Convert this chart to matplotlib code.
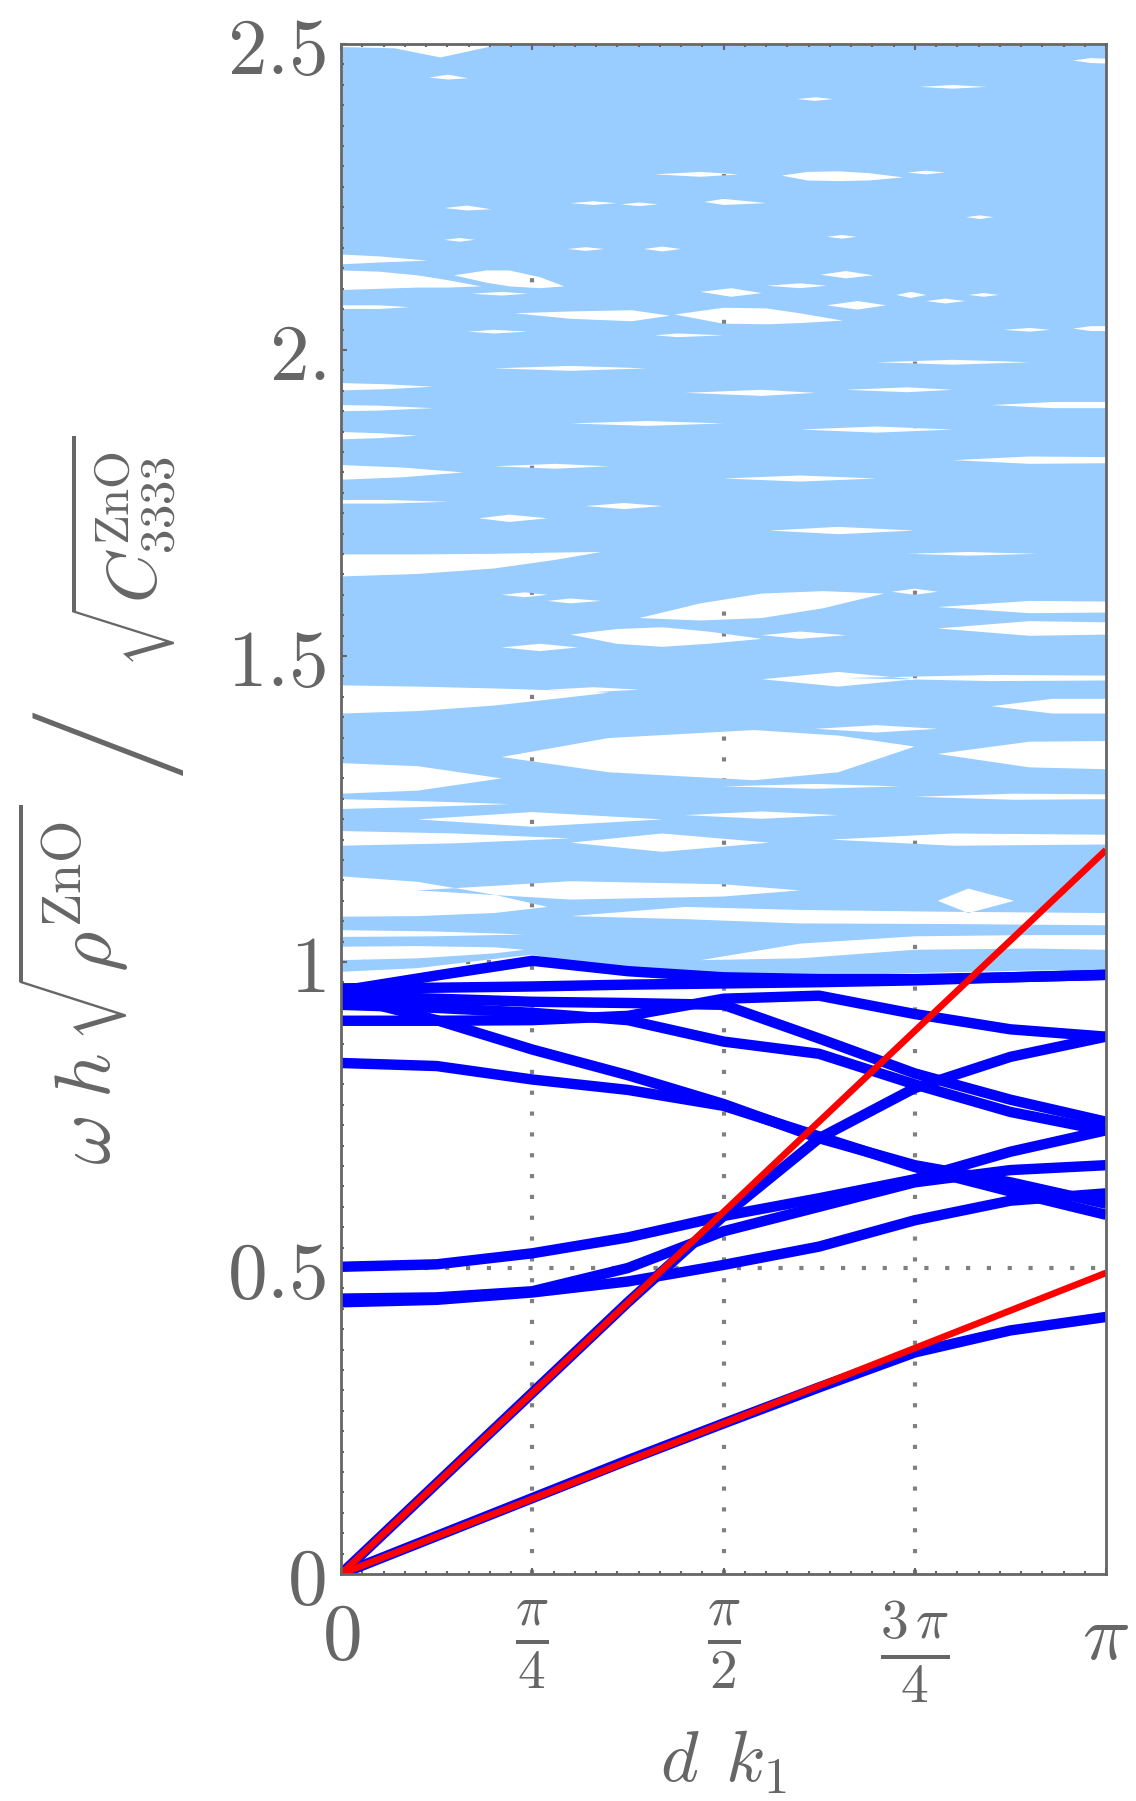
import numpy as np
import matplotlib
matplotlib.use("Agg")
import matplotlib.pyplot as plt
from matplotlib.path import Path
from matplotlib.patches import PathPatch

plt.rcParams['mathtext.fontset'] = 'cm'
plt.rcParams['font.family'] = ['DejaVu Serif']

PI = np.pi
GRAY = '#666666'

# ---------------- data ----------------
# wavenumber knots (units of pi)
k_knots = [0, 1/8, 1/4, 3/8, 1/2, 5/8, 3/4, 7/8, 1]

# dark-blue branches (normalised frequency at k_knots)
acoustic_low  = [0.000, 0.062, 0.124, 0.186, 0.246, 0.305, 0.362, 0.398, 0.420]
acoustic_up   = [0.000, 0.148, 0.296, 0.444, 0.585, 0.712, 0.794, 0.845, 0.878]
band_b3       = [0.502, 0.506, 0.524, 0.550, 0.585, 0.614, 0.645, 0.690, 0.725]
band_b4       = [0.450, 0.452, 0.462, 0.500, 0.560, 0.600, 0.640, 0.660, 0.668]
band_b5       = [0.444, 0.448, 0.460, 0.478, 0.505, 0.535, 0.578, 0.610, 0.622]
band_d1       = [0.835, 0.830, 0.808, 0.791, 0.765, 0.715, 0.665, 0.625, 0.587]
band_d2       = [0.945, 0.905, 0.857, 0.815, 0.768, 0.712, 0.668, 0.640, 0.605]
band_h1       = [0.904, 0.904, 0.905, 0.912, 0.940, 0.945, 0.915, 0.890, 0.878]
band_k        = [0.930, 0.925, 0.917, 0.905, 0.870, 0.850, 0.800, 0.755, 0.724]
band_g        = [0.945, 0.940, 0.935, 0.933, 0.930, 0.875, 0.818, 0.775, 0.739]
band_peak     = [0.953, 0.978, 1.002, 0.985, 0.975, 0.972, 0.972, 0.975, 0.979]
band_flat     = [0.957, 0.958, 0.960, 0.963, 0.965, 0.967, 0.970, 0.975, 0.979]
dark_bands = [acoustic_low, acoustic_up, band_b3, band_b4, band_b5, band_d1,
              band_d2, band_h1, band_k, band_g, band_peak, band_flat]

# red long-wavelength asymptotes: value reached at k = pi
red_end_values = [1.183, 0.492]

# light-blue continuum: lower and upper envelopes (k in units of pi)
cont_low_k = [0, 0.10, 0.20, 0.25, 0.30, 0.40, 0.47, 0.60, 0.75, 0.90, 1.0]
cont_low_v = [0.984, 0.990, 1.005, 1.012, 1.000, 0.990, 0.980, 0.976, 0.982, 0.986, 0.987]
cont_top_k = [0, 0.07, 0.13, 0.20, 1.0]
cont_top_v = [2.495, 2.493, 2.478, 2.497, 2.497]

# white gaps inside the continuum: (k knots, centre, half width)
gaps = [
    ([.115, .14, .166], [2.445, 2.446, 2.444], [0, .004, 0]),
    ([.957, .98, 1.0], [2.473, 2.473, 2.472], [0, .004, .004]),
    ([.756, .80, .844], [2.43, 2.43, 2.43], [0, .003, 0]),
    ([.596, .62, .643], [2.41, 2.41, 2.41], [0, .003, 0]),
    ([.41, .47, .52], [2.287, 2.287, 2.287], [0, .004, 0]),
    ([.576, .61, .65, .69, .735], [2.285, 2.284, 2.284, 2.283, 2.282], [0, .007, .008, .006, 0]),
    ([.74, .765, .79], [2.29, 2.29, 2.29], [0, .003, 0]),
    ([.475, .50, .556], [2.242, 2.242, 2.240], [0, .005, 0]),
    ([.135, .165, .196], [2.232, 2.232, 2.230], [0, .004, 0]),
    ([.30, .33, .36], [2.240, 2.240, 2.240], [0, .003, 0]),
    ([.366, .39, .414], [2.238, 2.238, 2.238], [0, .003, 0]),
    ([.635, .655, .674], [2.185, 2.185, 2.185], [0, .003, 0]),
    ([.135, .155, .175], [2.18, 2.18, 2.18], [0, .003, 0]),
    ([.296, .32, .344], [2.165, 2.165, 2.165], [0, .003, 0]),
    ([.396, .42, .444], [2.165, 2.165, 2.165], [0, .004, 0]),
    ([.817, .835, .853], [2.217, 2.217, 2.217], [0, .003, 0]),
    ([0, .05, .113], [2.148, 2.148, 2.146], [.008, .005, 0]),
    ([0, .05, .10, .14, .183], [2.114, 2.114, 2.112, 2.108, 2.104], [.016, .014, .010, .006, 0]),
    ([.148, .19, .22, .26, .292], [2.122, 2.120, 2.117, 2.110, 2.104], [0, .010, .013, .009, 0]),
    ([.47, .51, .55], [2.095, 2.094, 2.093], [0, .007, 0]),
    ([.627, .66, .696], [2.123, 2.123, 2.122], [0, .006, 0]),
    ([.556, .60, .635], [2.105, 2.105, 2.105], [0, .004, 0]),
    ([.17, .21, .244], [2.092, 2.092, 2.092], [0, .003, 0]),
    ([0, .05, .09], [2.07, 2.07, 2.07], [.003, .003, 0]),
    ([.227, .30, .38, .43], [2.060, 2.057, 2.056, 2.056], [0, .006, .009, 0]),
    ([.436, .50, .556, .60, .656], [2.058, 2.056, 2.055, 2.052, 2.048], [0, .013, .013, .008, 0]),
    ([.635, .675, .713], [2.073, 2.073, 2.073], [0, .007, 0]),
    ([.726, .745, .765], [2.09, 2.09, 2.09], [0, .005, 0]),
    ([.765, .79, .816], [2.08, 2.08, 2.08], [0, .004, 0]),
    ([.82, .84, .86], [2.09, 2.09, 2.09], [0, .003, 0]),
    ([.866, .90, .927], [2.033, 2.033, 2.033], [0, .003, 0]),
    ([.957, .98, 1.0], [2.035, 2.035, 2.035], [0, .004, .004]),
    ([.166, .20, .244], [2.03, 2.03, 2.03], [0, .003, 0]),
    ([.41, .44, .50], [2.024, 2.024, 2.024], [0, .003, 0]),
    # 1.75 - 2.0
    ([0, .08, .16], [1.80, 1.80, 1.80], [.012, .008, 0]),
    ([.20, .28, .35], [1.81, 1.81, 1.81], [0, .004, 0]),
    ([.50, .60, .70], [1.79, 1.79, 1.79], [0, .005, 0]),
    ([.80, .90, 1.0], [1.82, 1.82, 1.82], [0, .006, .005]),
    ([0, .05, .10], [1.86, 1.86, 1.86], [.006, .004, 0]),
    ([.30, .40, .50], [1.88, 1.88, 1.88], [0, .004, 0]),
    ([.60, .70, .80], [1.87, 1.87, 1.87], [0, .005, 0]),
    ([0, .05, .12], [1.905, 1.905, 1.905], [.005, .004, 0]),
    ([.45, .55, .62], [1.93, 1.93, 1.93], [0, .005, 0]),
    ([.66, .74, .80], [1.935, 1.935, 1.935], [0, .004, 0]),
    ([0, .06, .12], [1.94, 1.94, 1.94], [.006, .004, 0]),
    ([.20, .30, .40], [1.97, 1.97, 1.97], [0, .004, 0]),
    ([.70, .80, .90], [1.98, 1.98, 1.98], [0, .004, 0]),
    ([.85, .93, 1.0], [1.91, 1.91, 1.91], [0, .005, .005]),
    # 1.0 - 1.75
    ([0, .06, .14], [1.752, 1.752, 1.752], [.003, .003, 0]),
    ([.32, .37, .42], [1.745, 1.745, 1.745], [0, .005, 0]),
    ([.18, .22, .27], [1.725, 1.725, 1.725], [0, .006, 0]),
    ([.56, .65, .75], [1.705, 1.705, 1.705], [0, .006, 0]),
    ([.74, .82, .91], [1.667, 1.667, 1.667], [0, .003, 0]),
    ([0, .10, .20, .28, .34], [1.648, 1.650, 1.655, 1.663, 1.670], [.018, .016, .012, .006, 0]),
    ([.21, .24, .27], [1.60, 1.60, 1.60], [0, .004, 0]),
    ([.27, .30, .34], [1.59, 1.59, 1.59], [0, .004, 0]),
    ([.39, .47, .55, .63, .71], [1.562, 1.572, 1.582, 1.592, 1.602], [0, .014, .020, .014, 0]),
    ([.72, .75, .78], [1.605, 1.605, 1.605], [0, .005, 0]),
    ([.78, .90, 1.0], [1.580, 1.580, 1.580], [0, .010, .009]),
    ([.78, .90, 1.0], [1.545, 1.545, 1.545], [0, .012, .010]),
    ([.55, .60, .66], [1.534, 1.534, 1.534], [0, .006, 0]),
    ([.30, .36, .42, .48, .55], [1.535, 1.532, 1.531, 1.530, 1.528], [0, .012, .016, .010, 0]),
    ([.21, .26, .31], [1.514, 1.514, 1.514], [0, .006, 0]),
    ([.85, .93, 1.0], [1.418, 1.418, 1.418], [0, .012, .012]),
    ([.66, .85, 1.0], [1.464, 1.464, 1.464], [0, .005, .004]),
    ([.55, .65, .75], [1.462, 1.462, 1.462], [0, .012, 0]),
    ([.27, .33, .39], [1.445, 1.445, 1.445], [0, .004, 0]),
    ([0, .10, .20, .28, .35], [1.429, 1.430, 1.433, 1.437, 1.440], [.023, .020, .014, .007, 0]),
    ([.62, .70, .78], [1.381, 1.381, 1.381], [0, .006, 0]),
    ([.21, .35, .54, .65, .75], [1.335, 1.338, 1.338, 1.340, 1.352], [0, .028, .041, .030, 0]),
    ([.78, .90, 1.0], [1.340, 1.339, 1.338], [0, .021, .023]),
    ([0, .10, .21], [1.30, 1.30, 1.30], [.025, .020, 0]),
    ([.50, .62, .73], [1.287, 1.287, 1.287], [0, .004, 0]),
    ([.75, .88, 1.0], [1.27, 1.27, 1.27], [0, .005, .004]),
    ([0, .10, .22], [1.258, 1.258, 1.258], [.008, .005, 0]),
    ([.10, .25, .42], [1.233, 1.233, 1.233], [0, .012, 0]),
    ([.45, .55, .65], [1.24, 1.24, 1.24], [0, .006, 0]),
    ([0, .15, .30], [1.202, 1.202, 1.202], [.012, .008, 0]),
    ([.30, .42, .56], [1.195, 1.195, 1.195], [0, .015, 0]),
    ([.64, .80, 1.0], [1.20, 1.20, 1.20], [0, .010, .008]),
    ([.10, .30, .50, .60], [1.117, 1.117, 1.117, 1.117], [0, .015, .010, 0]),
    ([.78, .82, .88], [1.10, 1.10, 1.10], [0, .020, 0]),
    ([0, .10, .20, .27], [1.107, 1.103, 1.095, 1.09], [.033, .028, .015, 0]),
    ([0, .12, .24], [1.0465, 1.046, 1.045], [.0055, .004, 0]),
    ([0, .10, .20, .24], [1.014, 1.016, 1.019, 1.02], [.011, .010, .005, 0]),
    ([.30, .45, .60, .80, 1.0], [1.075, 1.080, 1.074, 1.072, 1.070], [0, .010, .011, .010, .010]),
    ([.47, .60, .75, .90, 1.0], [1.003, 1.018, 1.031, 1.033, 1.032], [0, .012, .011, .011, .012]),
]

# axis tick data
x_major = [0, PI/4, PI/2, 3*PI/4, PI]
x_labels = [r'$0$', r'$\frac{\pi}{4}$', r'$\frac{\pi}{2}$', r'$\frac{3\,\pi}{4}$', r'$\pi$']
y_major = [0, 0.5, 1, 1.5, 2, 2.5]
y_labels = [r'$0$', r'$0.5$', r'$1$', r'$1.5$', r'$2.$', r'$2.5$']
x_grid = [PI/4, PI/2, 3*PI/4]
y_grid = [0.5, 1.0, 1.5, 2.0]

# ---------------- figure ----------------
W, H = 1136, 1801
fig = plt.figure(figsize=(W/100, H/100), dpi=100)
L, R, T, B = 341, 1106, 44, 1574
ax = fig.add_axes([L/W, 1-B/H, (R-L)/W, (B-T)/H])
ax.set_xlim(0, PI)
ax.set_ylim(0, 2.5)

# grid (below everything)
for gx in x_grid:
    ax.axvline(gx, color='#808080', lw=3.0, ls=(0, (1, 4)), dash_capstyle='butt', zorder=0.5)
for gy in y_grid:
    ax.axhline(gy, color='#808080', lw=3.0, ls=(0, (1, 4)), dash_capstyle='butt', zorder=0.5)

# continuum with holes
verts, codes = [], []
ox = list(np.array(cont_low_k) * PI) + list(np.array(cont_top_k[::-1]) * PI)
oy = list(cont_low_v) + list(cont_top_v[::-1])
pts = list(zip(ox, oy))
verts += pts + [pts[0]]
codes += [Path.MOVETO] + [Path.LINETO] * (len(pts) - 1) + [Path.CLOSEPOLY]
for gk, gc, gh in gaps:
    gk = np.array(gk) * PI
    gc = np.array(gc); gh = np.array(gh)
    lo = gc - gh; hi = gc + gh
    px = list(gk) + list(gk[::-1])
    py = list(lo) + list(hi[::-1])
    p = list(zip(px, py))[::-1]  # reverse orientation -> hole
    verts += p + [p[0]]
    codes += [Path.MOVETO] + [Path.LINETO] * (len(p) - 1) + [Path.CLOSEPOLY]
ax.add_patch(PathPatch(Path(verts, codes), facecolor='#99ccff', edgecolor='none', zorder=1))

# dark blue bands
kx = np.array(k_knots) * PI
for band in dark_bands:
    ax.plot(kx, band, color='#0000ff', lw=7.5, solid_capstyle='butt', solid_joinstyle='round', zorder=3)

# red lines
for v in red_end_values:
    ax.plot([0, PI], [0, v], color='#ff0000', lw=4.8, zorder=4, solid_capstyle='butt')

# spines & ticks
for side in ['left', 'right', 'top', 'bottom']:
    ax.spines[side].set_color(GRAY)
    ax.spines[side].set_linewidth(2.0)
    ax.spines[side].set_zorder(5)

ax.set_xticks(x_major)
ax.set_xticklabels(x_labels)
ax.set_yticks(y_major)
ax.set_yticklabels(y_labels)
ax.set_xticks(np.arange(0, 37) * PI / 36, minor=True)
ax.set_yticks(np.arange(0, 76) / 30, minor=True)
ax.tick_params(which='both', direction='in', color=GRAY, width=1.5,
               top=True, right=False, labelcolor=GRAY)
ax.tick_params(which='major', length=4)
ax.tick_params(which='minor', length=2)
ax.tick_params(axis='y', which='major', labelsize=57, pad=11)
ax.tick_params(axis='x', which='major', labelsize=57, pad=18)

fig.text(723.5/W, 1 - 1782/H, r'$d\;\,k_{1}$', fontsize=52, color=GRAY,
         ha='center', va='baseline')

# y label: three pieces of text (rotated)
fig.text(112/W, 1 - 1165/H, r'$\omega\;h\,\sqrt{\rho^{\mathrm{ZnO}}}$',
         fontsize=56, color=GRAY, rotation=90, rotation_mode='anchor',
         ha='left', va='baseline')
fig.text(115/W, 1 - 739/H, '/', family='Roboto', fontweight='light',
         fontsize=140, color=GRAY, rotation=90, rotation_mode='anchor',
         ha='center', va='center')
fig.text(157/W, 1 - 668/H, r'$\sqrt{C^{\mathrm{ZnO}}_{3333}}$',
         fontsize=50, color=GRAY, rotation=90, rotation_mode='anchor',
         ha='left', va='baseline')

fig.savefig('out.png', dpi=100)
